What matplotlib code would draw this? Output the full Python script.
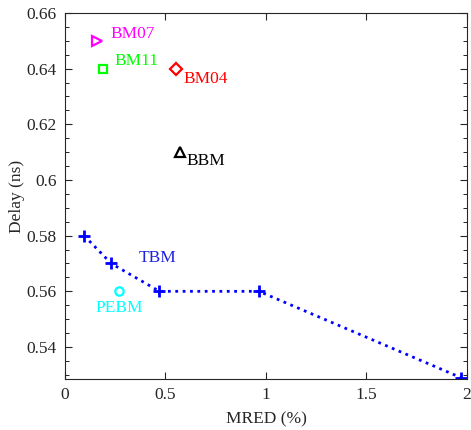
import matplotlib
matplotlib.use("Agg")
import matplotlib.pyplot as plt
from matplotlib.ticker import MultipleLocator

plt.rcParams['font.family'] = ['Liberation Serif', 'DejaVu Serif']

# Data
tbm_x = [0.095, 0.23, 0.47, 0.965, 1.97]
tbm_y = [0.58, 0.57, 0.56, 0.56, 0.529]

others_names = ['BM07', 'BM11', 'BM04', 'BBM', 'PEBM']
others_x = [0.16, 0.19, 0.55, 0.57, 0.27]
others_y = [0.65, 0.64, 0.64, 0.61, 0.56]

markers = ['>', 's', 'D', '^', 'o']
colors = ['#FF00FF', '#00FF00', '#FF0000', '#000000', '#00FFFF']
label_offsets = [(0.065, 0.001), (0.055, 0.0012), (0.04, -0.005), (0.035, -0.0045), (-0.12, -0.0075)]

fig = plt.figure(figsize=(4.71, 4.30), dpi=100)
ax = fig.add_axes([0.138, 0.1186, 0.8535, 0.8512])

ax.plot(tbm_x, tbm_y, color='#0000FF', linestyle=':', linewidth=2,
        marker='+', markersize=8, markeredgewidth=2)
ax.text(0.365, 0.5705, 'TBM', color='#2020E0', fontsize=12.5)

for n, x, y, m, c, (dx, dy) in zip(others_names, others_x, others_y, markers, colors, label_offsets):
    ms = 6 if m in ('s', 'D', 'o') else 7
    ax.plot([x], [y], marker=m, color=c, markerfacecolor='none',
            markersize=ms, markeredgewidth=1.6, linestyle='none')
    ax.text(x + dx, y + dy, n, color=c, fontsize=12.5)

ax.set_xlim(0, 2)
ax.set_ylim(0.5285, 0.66)
ax.set_xticks([0, 0.5, 1, 1.5, 2])
ax.set_xticklabels(['0', '0.5', '1', '1.5', '2'])
ax.yaxis.set_minor_locator(MultipleLocator(0.005))
ax.set_yticks([0.54, 0.56, 0.58, 0.6, 0.62, 0.64, 0.66])
ax.set_yticklabels(['0.54', '0.56', '0.58', '0.6', '0.62', '0.64', '0.66'])
ax.tick_params(direction='in', top=True, right=True, labelsize=12.5, length=5, width=0.8,
               colors='#262626', pad=6)
ax.tick_params(which='minor', direction='in', right=True, left=True, length=3, width=0.6)
for sp in ax.spines.values():
    sp.set_color('#262626')
    sp.set_linewidth(0.8)

ax.set_xlabel('MRED (%)', fontsize=12.5, color='#262626', labelpad=6)
ax.set_ylabel('Delay (ns)', fontsize=12.5, color='#262626', labelpad=1)

fig.savefig('out.png', dpi=100)
